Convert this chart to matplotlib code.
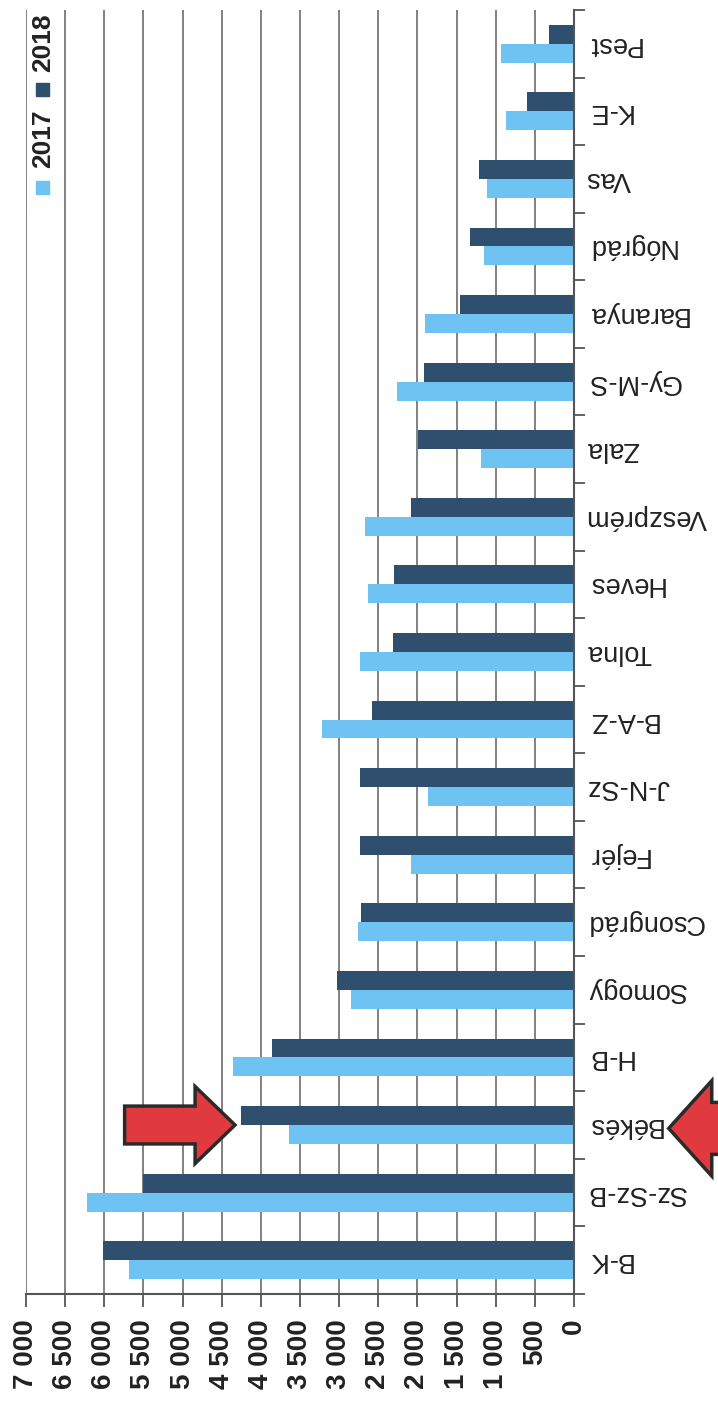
import numpy as np
import matplotlib
matplotlib.use("Agg")
import matplotlib.pyplot as plt
import matplotlib.patches as mpatches

# counties, bottom (B-K) to top (Pest)
megyek = ['B-K', 'Sz-Sz-B', 'Békés', 'H-B', 'Somogy', 'Csongrád', 'Fejér',
          'J-N-Sz', 'B-A-Z', 'Tolna', 'Heves', 'Veszprém', 'Zala', 'Gy-M-S',
          'Baranya', 'Nógrád', 'Vas', 'K-E', 'Pest']
ev2017 = [5690, 6220, 3640, 4350, 2850, 2755, 2080, 1860, 3225, 2730,
          2635, 2665, 1190, 2265, 1900, 1150, 1110, 870, 930]
ev2018 = [6010, 5500, 4255, 3860, 3025, 2725, 2735, 2735, 2585, 2310,
          2300, 2085, 1990, 1920, 1450, 1330, 1215, 600, 320]
xticks = np.arange(0, 7001, 500)

c17 = '#6FC3F2'
c18 = '#2F4F6F'

fig = plt.figure(figsize=(7.18, 14.01), dpi=100)
ax = fig.add_axes([0.0362, 0.0764, 0.7632, 0.9165])

y = np.arange(len(megyek))
h = 0.28
ax.barh(y - h/2, ev2017, height=h, color=c17, zorder=2)
ax.barh(y + h/2, ev2018, height=h, color=c18, zorder=2)

ax.set_xlim(7000, 0)
ax.set_ylim(-0.5, len(megyek) - 0.5)

# value axis (bottom, rotated labels, aligned at their upper end)
ax.set_xticks(xticks)
ax.set_xticklabels(['{:,}'.format(v).replace(',', ' ') for v in xticks],
                   rotation=90, fontsize=20, fontweight='bold',
                   family=['Liberation Sans', 'DejaVu Sans'], color='#222222')
ax.tick_params(axis='x', direction='out', length=9, width=1.3,
               color='#555555', pad=9)
for lbl in ax.get_xticklabels():
    lbl.set_rotation_mode('anchor')
    lbl.set_ha('right')
    lbl.set_va('center')
ax.grid(axis='x', color='#777777', linewidth=1.3, zorder=0)
ax.set_axisbelow(True)

# category axis on the right, labels upside down
ax.yaxis.tick_right()
ax.set_yticks(y)
ax.set_yticklabels(megyek, rotation=180, fontsize=19.5,
                   family=['Liberation Sans', 'DejaVu Sans'], color='#222222')
ax.set_yticks(np.arange(-0.5, len(megyek), 1), minor=True)
ax.tick_params(axis='y', which='major', length=0, pad=9)
ax.tick_params(axis='y', which='minor', direction='out', length=8, width=1.3,
               color='#555555', right=True, left=False)
for lbl in ax.get_yticklabels():
    lbl.set_rotation_mode('default')
    lbl.set_ha('left')
    lbl.set_va('center')

for s in ['top', 'left']:
    ax.spines[s].set_visible(False)
ax.spines['right'].set_color('#555555')
ax.spines['right'].set_linewidth(1.5)
ax.spines['bottom'].set_color('#555555')
ax.spines['bottom'].set_linewidth(1.5)

# legend, rotated like the rest of the chart
lfont = dict(fontsize=19, fontweight='bold', rotation=90, ha='center',
             va='center', color='#222222', family=['Liberation Sans', 'DejaVu Sans'])
fig.add_artist(mpatches.Rectangle((36/718, 1 - 194/1401), 13/718, 13/1401,
                                  transform=fig.transFigure, color=c17))
fig.text(43/718, 1 - 139/1401, '2017', **lfont)
fig.add_artist(mpatches.Rectangle((36/718, 1 - 96/1401), 13/718, 13/1401,
                                  transform=fig.transFigure, color=c18))
fig.text(43/718, 1 - 43/1401, '2018', **lfont)

# red arrows pointing at Békés
bi = megyek.index('Békés')
ax.add_patch(mpatches.FancyArrow(5740, bi, -1410, 0, width=0.56, head_width=1.14,
                                 head_length=510, length_includes_head=True,
                                 facecolor='#E03A3E', edgecolor='#2a2a2a',
                                 linewidth=2.5, zorder=5))
ax.add_patch(mpatches.FancyArrow(-2300, bi - 0.05, 1090, 0, width=0.77, head_width=1.41,
                                 head_length=550, length_includes_head=True,
                                 facecolor='#E03A3E', edgecolor='#2a2a2a',
                                 linewidth=2.5, zorder=5, clip_on=False))

fig.savefig('out.png', dpi=100)
